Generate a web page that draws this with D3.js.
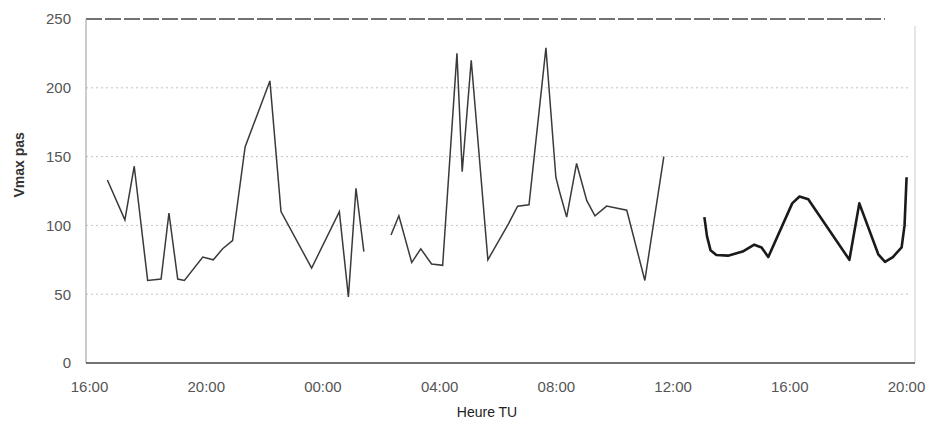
<!DOCTYPE html>
<html>
<head>
<meta charset="utf-8">
<script src="https://cdn.jsdelivr.net/npm/d3@7"></script>
<style>
  body { margin: 0; background: #fff; }
  svg { display: block; font-family: "Liberation Sans", Arial, sans-serif; }
</style>
</head>
<body>
<script>
var width = 938
var height = 428

// hours since 16:00 on the first day
var tickHours = [0, 4, 8, 12, 16, 20, 24, 28]
var tickLabels = ["16:00", "20:00", "00:00", "04:00", "08:00", "12:00", "16:00", "20:00"]
var yTicks = [0, 50, 100, 150, 200, 250]

// recorded series, null = gap in the record
var hours = [0.63, 1.23, 1.55, 2.01, 2.47, 2.74, 3.04, 3.27, 3.9, 4.26, 4.58, 4.92, 5.35, 6.2, 6.58, 7.63, 8.58, 8.89, 9.15, 9.42,
  9.9,
  10.35, 10.62, 11.06, 11.37, 11.74, 12.12, 12.61, 12.79, 13.1, 13.67, 14.37, 14.69, 15.08, 15.66, 16.0, 16.12, 16.37, 16.71, 17.06, 17.34, 17.74, 18.43, 19.05, 19.7]
var vmax = [133, 104, 143, 60, 61, 109, 61, 60, 77, 75, 83, 89, 157, 205, 110, 69, 110, 48, 127, 81,
  null,
  93, 107, 73, 83, 72, 71, 225, 139, 220, 75, 101, 114, 115, 229, 135, 125, 106, 145, 118, 107, 114, 111, 60, 150]

// hand-drawn continuation at the end
var handHours = [21.09, 21.18, 21.3, 21.5, 21.9, 22.4, 22.8, 23.05, 23.28, 24.1, 24.35, 24.65, 26.06, 26.4, 27.05, 27.28, 27.55, 27.85, 27.95, 28.02]
var handVmax = [106, 92, 82, 78.5, 78, 81, 86, 84, 77, 116, 121, 119, 75, 116, 79, 73.5, 77, 84, 100, 135]

var x = d3.scaleLinear().domain([0, 28]).range([89, 906])
var y = d3.scaleLinear().domain([0, 250]).range([363, 19])
var left = 86, right = 915

const svg = d3.select("body").append("svg")
  .attr("width", width).attr("height", height)

// grid lines
svg.append("g")
  .selectAll("line")
  .data([50, 100, 150, 200])
  .join("line")
  .attr("x1", left).attr("x2", right - 5)
  .attr("y1", d => y(d)).attr("y2", d => y(d))
  .attr("stroke", "#c4c4c4")
  .attr("stroke-dasharray", "2,3")

// top border (250)
svg.append("line")
  .attr("x1", left).attr("x2", right - 30)
  .attr("y1", y(250)).attr("y2", y(250))
  .attr("stroke", "#444").attr("stroke-width", 1.4)
  .attr("stroke-dasharray", "16,3")

// right border
svg.append("line")
  .attr("x1", right).attr("x2", right)
  .attr("y1", y(245)).attr("y2", y(0))
  .attr("stroke", "#ccc")

// left axis line
svg.append("line")
  .attr("x1", left).attr("x2", left)
  .attr("y1", y(250)).attr("y2", y(0))
  .attr("stroke", "#999")

// bottom axis line
svg.append("line")
  .attr("x1", left).attr("x2", right)
  .attr("y1", y(0)).attr("y2", y(0))
  .attr("stroke", "#444").attr("stroke-width", 1.5)

// tick labels
const xAxis = svg.append("g")
  .attr("transform", `translate(0,${y(0)})`)
  .call(d3.axisBottom(x).tickValues(tickHours).tickSize(0).tickPadding(18)
    .tickFormat((d, i) => tickLabels[i]))
xAxis.select(".domain").remove()
xAxis.selectAll("text").attr("font-size", 15).attr("fill", "#555")
  .attr("font-family", "Liberation Sans, Arial, sans-serif")

const yAxis = svg.append("g")
  .attr("transform", `translate(${left},0)`)
  .call(d3.axisLeft(y).tickValues(yTicks).tickSize(0).tickPadding(15))
yAxis.select(".domain").remove()
yAxis.selectAll("text").attr("font-size", 15).attr("fill", "#555")
  .attr("font-family", "Liberation Sans, Arial, sans-serif")

// axis titles
svg.append("text")
  .attr("transform", `translate(24,${y(144)}) rotate(-90)`)
  .attr("text-anchor", "middle")
  .attr("font-size", 14).attr("font-weight", "bold").attr("fill", "#333")
  .text("Vmax pas")

svg.append("text")
  .attr("x", 487).attr("y", 417)
  .attr("text-anchor", "middle")
  .attr("font-size", 14).attr("fill", "#222")
  .text("Heure TU")

// recorded line
const data = hours.map((h, i) => ({ h, v: vmax[i] }))
const line = d3.line()
  .defined(d => d.v != null)
  .x(d => x(d.h)).y(d => y(d.v))

svg.append("path")
  .datum(data)
  .attr("d", line)
  .attr("fill", "none")
  .attr("stroke", "#3a3a3a")
  .attr("stroke-width", 1.5)
  .attr("stroke-linejoin", "miter")

// hand-drawn part
const handData = handHours.map((h, i) => ({ h, v: handVmax[i] }))
svg.append("path")
  .datum(handData)
  .attr("d", d3.line().x(d => x(d.h)).y(d => y(d.v)))
  .attr("fill", "none")
  .attr("stroke", "#1a1a1a")
  .attr("stroke-width", 2.6)
  .attr("stroke-linejoin", "round")
</script>
</body>
</html>
